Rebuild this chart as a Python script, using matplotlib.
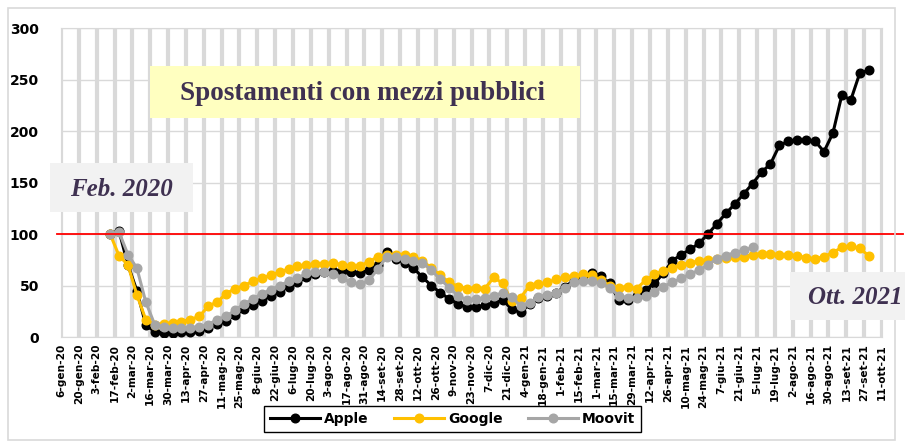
import matplotlib.pyplot as plt
from matplotlib.patches import Rectangle
import numpy as np

# etichette asse x (una ogni due settimane, dal 6-gen-20)
tick_labels = ["6-gen-20", "20-gen-20", "3-feb-20", "17-feb-20", "2-mar-20", "16-mar-20", "30-mar-20",
               "13-apr-20", "27-apr-20", "11-mag-20", "25-mag-20", "8-giu-20", "22-giu-20", "6-lug-20",
               "20-lug-20", "3-ago-20", "17-ago-20", "31-ago-20", "14-set-20", "28-set-20", "12-ott-20",
               "26-ott-20", "9-nov-20", "23-nov-20", "7-dic-20", "21-dic-20", "4-gen-21", "18-gen-21",
               "1-feb-21", "15-feb-21", "1-mar-21", "15-mar-21", "29-mar-21", "12-apr-21", "26-apr-21",
               "10-mag-21", "24-mag-21", "7-giu-21", "21-giu-21", "5-lug-21", "19-lug-21", "2-ago-21",
               "16-ago-21", "30-ago-21", "13-set-21", "27-set-21", "11-ott-21"]

# valori settimanali (indice, feb 2020 = 100)
apple = [100, 103, 70, 45, 12, 5, 4, 4, 5, 5, 6, 9, 13, 16, 21, 27, 31, 35, 40, 44, 49, 53,
         58, 61, 63, 64, 64, 63, 62, 65, 70, 83, 76, 72, 67, 58, 50, 43, 37, 32, 29, 29, 31, 33,
         36, 27, 24, 32, 38, 40, 43, 49, 55, 60, 62, 59, 52, 36, 36, 40, 46, 52, 62, 74, 80, 85,
         91, 100, 110, 120, 129, 139, 149, 160, 168, 186, 190, 191, 191, 190, 180, 198, 235, 230,
         256, 259]
google = [100, 79, 70, 41, 17, 12, 13, 14, 15, 17, 20, 30, 34, 42, 47, 50, 54, 57, 60, 63, 66, 69,
          70, 71, 71, 72, 70, 69, 69, 73, 78, 80, 80, 80, 78, 74, 67, 60, 53, 49, 47, 48, 47, 58,
          52, 35, 38, 50, 51, 53, 56, 58, 59, 61, 60, 55, 50, 48, 49, 47, 55, 61, 64, 67, 70, 72,
          74, 75, 76, 77, 78, 78, 80, 81, 81, 80, 80, 79, 77, 76, 78, 82, 87, 88, 86, 79]
moovit = [100, 102, 80, 67, 34, 12, 10, 9, 9, 9, 10, 12, 17, 20, 26, 32, 37, 42, 46, 50, 54, 57,
          62, 63, 63, 61, 57, 53, 51, 55, 66, 78, 78, 76, 74, 72, 65, 56, 48, 40, 36, 37, 38, 40,
          43, 39, 30, 33, 39, 41, 43, 48, 53, 54, 54, 52, 48, 40, 38, 38, 40, 44, 49, 53, 57, 61,
          65, 70, 76, 79, 82, 84, 87]

start_week = 5.5
W, H = 905, 441


def px_box(x0, y0, x1, y1, color):
    # rettangolo in pixel (origine in alto a sinistra)
    return Rectangle((x0 / W, 1 - y1 / H), (x1 - x0) / W, (y1 - y0) / H, transform=figure.transFigure,
                     facecolor=color, edgecolor="none", zorder=2)


if __name__ == "__main__":
    figure = plt.figure(figsize=(9.05, 4.41), dpi=100)
    ax = figure.add_axes([0.0674, 0.2358, 0.9072, 0.7007])

    # cornice esterna
    figure.patches.append(Rectangle((0.009, 0.003), 0.98, 0.979, transform=figure.transFigure,
                                    fill=False, edgecolor="#d9d9d9", linewidth=1.2))

    x_apple = start_week + np.arange(len(apple))
    x_google = start_week + np.arange(len(google))
    x_moovit = start_week + np.arange(len(moovit))

    ax.plot(x_apple, apple, color="black", marker="o", markersize=6.2, linewidth=2.2, label="Apple", zorder=3)
    ax.plot(x_google, google, color="#ffc000", marker="o", markersize=6.2, linewidth=2.2, label="Google", zorder=4)
    ax.plot(x_moovit, moovit, color="#a6a6a6", marker="o", markersize=6.2, linewidth=2.2, label="Moovit", zorder=5)

    ax.axhline(100, xmin=-0.005, xmax=1.026, color="red", linewidth=1.3, clip_on=False, zorder=6)

    ax.set_xlim(0, 92)
    ax.set_ylim(0, 300)
    ax.set_xticks(range(0, 93, 2))
    ax.set_xticklabels(tick_labels, rotation=90, fontsize=7.6, fontweight="bold")
    ax.set_yticks(range(0, 301, 50))
    ax.tick_params(axis="y", length=0, pad=16, labelsize=10)
    ax.tick_params(axis="x", length=0, pad=5)
    for lab in ax.get_yticklabels():
        lab.set_fontweight("heavy")

    ax.grid(axis="x", color="#d9d9d9", linewidth=3.0, zorder=0)
    ax.grid(axis="y", color="#d9d9d9", linewidth=1.0, zorder=0)
    ax.set_axisbelow(True)
    for spine in ax.spines.values():
        spine.set_color("#d9d9d9")

    # riquadri delle scritte
    figure.patches.append(px_box(150, 66, 580, 118, "#ffffc0"))
    figure.patches.append(px_box(50, 163, 193, 212, "#f2f2f2"))
    figure.patches.append(px_box(790, 272, 906, 320, "#f2f2f2"))

    figure.text(362 / W, 1 - 93 / H, "Spostamenti con mezzi pubblici", ha="center", va="center",
                fontsize=19.5, fontweight="bold", family="Liberation Serif", color="#3f3151", zorder=3)
    figure.text(121 / W, 1 - 189 / H, "Feb. 2020", ha="center", va="center", fontsize=18,
                fontweight="bold", style="italic", family="Liberation Serif", color="#3f3151", zorder=3)
    figure.text(808 / W, 1 - 297 / H, "Ott. 2021", ha="left", va="center", fontsize=18,
                fontweight="bold", style="italic", family="Liberation Serif", color="#3f3151", zorder=3)

    leg = figure.legend(loc="center", bbox_to_anchor=(0.5, 0.05), ncol=3, numpoints=1,
                        handlelength=3.6, fancybox=False, edgecolor="black", framealpha=1,
                        prop={"weight": "heavy", "size": 10}, columnspacing=1.8,
                        borderpad=0.4, handletextpad=0.3)
    leg.get_frame().set_linewidth(1.0)

    plt.savefig("out.png", dpi=100)
